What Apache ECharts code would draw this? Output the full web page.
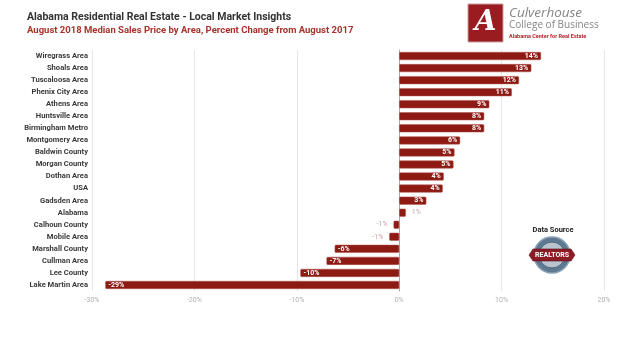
<!DOCTYPE html>
<html>
<head>
<meta charset="utf-8">
<script src="https://cdn.jsdelivr.net/npm/echarts@6/dist/echarts.min.js"></script>
<style>html,body{margin:0;padding:0;background:#fff}#c{width:640px;height:338px}</style>
</head>
<body>
<div id="c"></div>
<script>
var categories = ['Wiregrass Area','Shoals Area','Tuscaloosa Area','Phenix City Area','Athens Area','Huntsville Area','Birmingham Metro','Montgomery Area','Baldwin County','Morgan County','Dothan Area','USA','Gadsden Area','Alabama','Calhoun County','Mobile Area','Marshall County','Cullman Area','Lee County','Lake Martin Area'];
var values = [13.85,12.9,11.7,11.0,8.8,8.3,8.3,5.95,5.4,5.3,4.35,4.25,2.65,0.65,-0.55,-0.97,-6.3,-7.1,-9.65,-28.7];
var xTicks = [-30,-20,-10,0,10,20];

var chart = echarts.init(document.getElementById('c'));
var FONT = 'Roboto';
var data = values.map(function(v){
  var small = Math.abs(v) < 1.5;
  var lbl;
  if (small) {
    lbl = {show:true, position: v >= 0 ? 'right' : 'left', color:'#c9a3a3', fontSize:7, distance:6};
  } else {
    lbl = {show:true, position: v >= 0 ? 'insideRight' : 'insideLeft', color:'#ffffff', fontSize:7, fontWeight:'bold', distance:3};
  }
  return {value:v, label:lbl};
});

chart.setOption({
  animation:false,
  textStyle:{fontFamily:FONT},
  grid:{left:92, right:36, top:50, bottom:47},
  xAxis:{type:'value', min:xTicks[0], max:xTicks[xTicks.length-1], interval:10,
    axisLine:{show:false}, axisTick:{show:false},
    splitLine:{lineStyle:{color:'#e6e6e6', width:1}},
    axisLabel:{color:'#b0b0b0', fontSize:7, margin:6, formatter:function(v){return v+'%';}}
  },
  yAxis:{type:'category', data:categories, inverse:true,
    axisLine:{show:true, onZero:true, lineStyle:{color:'#a8a8a8', width:1}},
    axisTick:{show:false},
    axisLabel:{color:'#3a3a3a', fontSize:7.6, fontWeight:'bold', margin:4}
  },
  series:[{type:'bar', data:data, barWidth:8,
    itemStyle:{color:'#8d1b14', borderColor:'#b0534d', borderWidth:0.5, borderRadius:1},
    label:{formatter:function(p){return Math.round(p.value)+'%';}}
  }],
  graphic:[
    {type:'text', left:27, top:12, style:{text:'Alabama Residential Real Estate - Local Market Insights', fill:'#333', font:'bold 10.5px '+FONT}},
    {type:'text', left:27, top:26, style:{text:'August 2018 Median Sales Price by Area, Percent Change from August 2017', fill:'#a8322b', font:'bold 9.5px '+FONT}},
    {type:'rect', shape:{x:468, y:4, width:35, height:38}, style:{fill:'#9b1c20', stroke:'#c9a0a0', lineWidth:1}},
    {type:'text', x:485.5, y:23, style:{text:'A', fill:'#ffffff', font:'italic bold 28px "DejaVu Serif"', align:'center', verticalAlign:'middle'}},
    {type:'text', x:509, y:13, style:{text:'Culverhouse', fill:'#858585', font:'italic 13.5px "Open Sans"', verticalAlign:'middle'}},
    {type:'text', x:509, y:25.5, style:{text:'College of Business', fill:'#858585', font:'10px "Open Sans"', verticalAlign:'middle'}},
    {type:'text', x:509, y:37, style:{text:'Alabama Center for Real Estate', fill:'#b0282a', font:'bold 5.5px '+FONT, verticalAlign:'middle'}},
    {type:'text', x:553, y:230, style:{text:'Data Source', fill:'#222', font:'bold 7.5px '+FONT, align:'center', verticalAlign:'middle'}},
    {type:'circle', shape:{cx:552, cy:255, r:18}, style:{fill:'#5e7a92', stroke:'#8aa0b3', lineWidth:1.5}},
    {type:'circle', shape:{cx:552, cy:255, r:13}, style:{fill:'#b8c4cf', stroke:'#4d6579', lineWidth:1}},
    {type:'polygon', shape:{points:[[533,249],[571,249],[575,255],[571,261],[533,261],[529,255]]}, style:{fill:'#8d1b24', stroke:'#5a1014', lineWidth:0.6}},
    {type:'text', x:552, y:255, style:{text:'REALTORS', fill:'#ffffff', font:'bold 7px '+FONT, align:'center', verticalAlign:'middle'}}
  ]
});
</script>
</body>
</html>
